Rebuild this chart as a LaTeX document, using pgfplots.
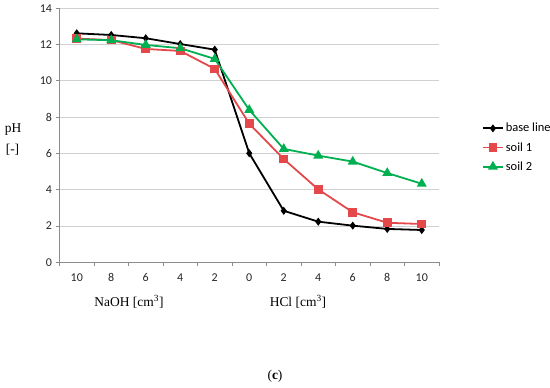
\documentclass[border=0pt]{standalone}
\usepackage{fontspec}
\setmainfont{Liberation Serif}
\newfontfamily\carlito{Carlito}
\usepackage{pgfplots}
\pgfplotsset{compat=1.18}
\definecolor{soilred}{HTML}{E5484B}
\definecolor{soilgreen}{HTML}{00B050}
\definecolor{gridgray}{HTML}{D0D0D0}
\definecolor{axgray}{HTML}{8C8C8C}
\pgfplotstableread{
x base soila soilb
0 12.62 12.33 12.29
1 12.53 12.25 12.24
2 12.35 11.76 11.98
3 12.03 11.65 11.80
4 11.72 10.66 11.21
5 6.01 7.64 8.40
6 2.84 5.69 6.25
7 2.24 4.02 5.88
8 2.02 2.76 5.55
9 1.84 2.18 4.92
10 1.78 2.11 4.33
}\datatable
\begin{document}
\begin{tikzpicture}
\path[use as bounding box] (0bp,0bp) rectangle (550bp,-388bp);
\begin{axis}[
  at={(59.5bp,-262.3bp)}, anchor=south west,
  scale only axis, width=379.5bp, height=254bp,
  xmin=-0.5, xmax=10.5, ymin=0, ymax=14,
  axis x line=bottom, axis y line=left,
  axis line style={-, draw=axgray, line width=0.9pt},
  xtick={0,...,10},
  xticklabels={10,8,6,4,2,0,2,4,6,8,10},
  minor xtick={-0.5,0.5,...,10.5},
  major x tick style={draw=none},
  ytick={0,2,...,14},
  ymajorgrids, grid style={gridgray, line width=0.9pt},
  tick align=outside,
  major tick length=4bp, minor tick length=4bp,
  tick style={axgray, line width=0.9pt},
  /pgf/number format/assume math mode=true,
  tick label style={font=\carlito\fontsize{12}{13}\selectfont, text=black!85},
  xticklabel style={yshift=-4bp},
  legend style={at={(1.105,0.452)}, anchor=west, draw=none, fill=none,
    font=\carlito\fontsize{12.5}{13}\selectfont, row sep=5bp,
    /tikz/every odd column/.append style={inner xsep=1bp}},
  legend image code/.code={\draw[mark repeat=2,mark phase=2] plot coordinates {(0bp,0bp) (10bp,0bp) (20bp,0bp)};},
  legend cell align=left,
]
\addplot[black, line width=1.8pt, mark=diamond*, mark size=2.6bp] table[x=x,y=base]{\datatable};
\addlegendentry{base line}
\addplot[soilred, line width=1.8pt, mark=square*, mark size=3.4bp] table[x=x,y=soila]{\datatable};
\addlegendentry{soil 1}
\addplot[soilgreen, line width=1.8pt, mark=triangle*, mark size=4bp] table[x=x,y=soilb]{\datatable};
\addlegendentry{soil 2}
\end{axis}
\node[font=\fontsize{13.5}{14}\selectfont] at (13bp,-130bp) {pH};
\node[font=\fontsize{13.5}{14}\selectfont] at (12.5bp,-150bp) {[-]};
\node[font=\fontsize{13.5}{14}\selectfont] at (129bp,-302bp) {NaOH [cm\textsuperscript{3}]};
\node[font=\fontsize{13.5}{14}\selectfont] at (298bp,-302bp) {HCl [cm\textsuperscript{3}]};
\node[font=\fontsize{13.5}{14}\selectfont] at (275bp,-376bp) {(\textbf{c})};
\end{tikzpicture}
\end{document}
